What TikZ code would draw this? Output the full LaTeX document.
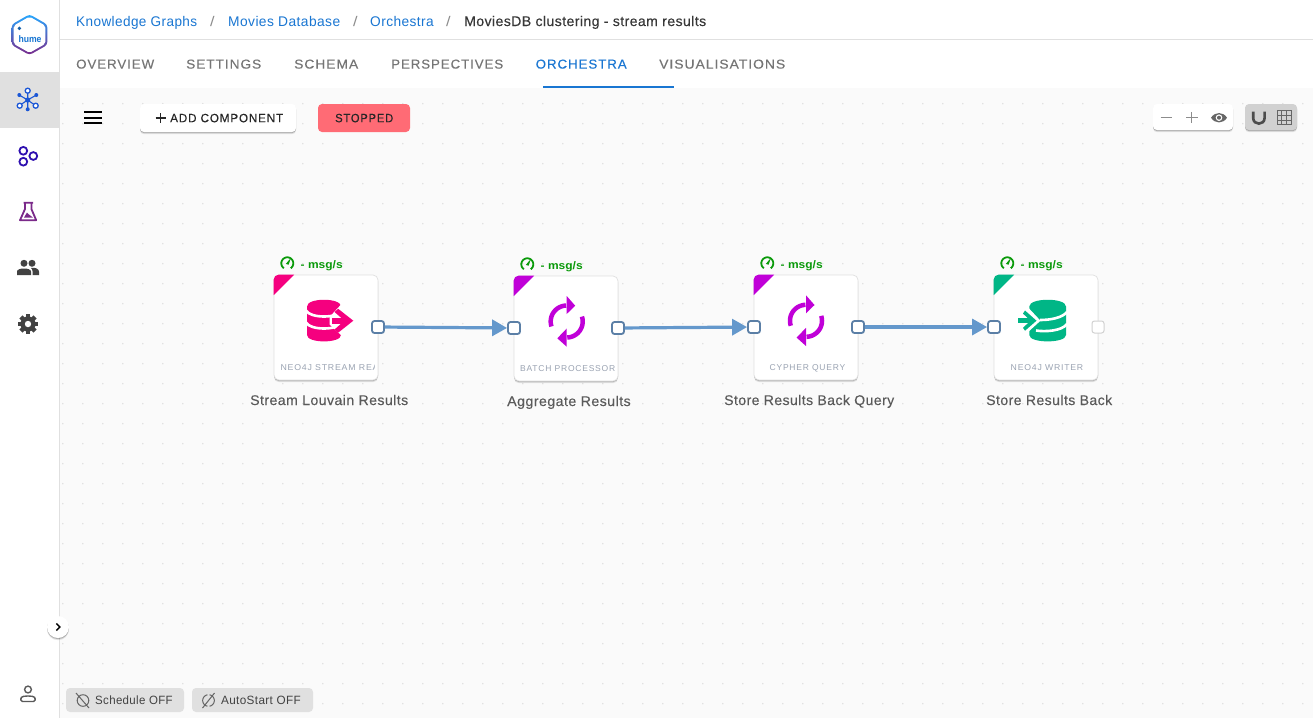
\documentclass[tikz,border=0pt]{standalone}
\usepackage{fontspec}
\usepackage{graphicx}
\usetikzlibrary{arrows.meta,shadows,calc}
\setmainfont{Liberation Sans}
\newfontfamily\medf[LetterSpace=3,FakeBold=0.15]{Liberation Sans}
\newfontfamily\trkf[LetterSpace=3]{Liberation Sans}
\newfontfamily\capf[LetterSpace=7,FakeBold=0.25]{Liberation Sans}
\newfontfamily\smallcapf[LetterSpace=9]{Liberation Sans}
\definecolor{linkblue}{HTML}{1976D2}
\definecolor{tabgray}{HTML}{757575}
\definecolor{canvasbg}{HTML}{FAFAFA}
\definecolor{linegray}{HTML}{E0E0E0}
\definecolor{dotgray}{HTML}{DFDFDF}
\definecolor{edgeblue}{HTML}{6498CC}
\definecolor{portblue}{HTML}{5B7FA6}
\definecolor{pinkc}{HTML}{F5007F}
\definecolor{purplec}{HTML}{C000D8}
\definecolor{greenc}{HTML}{00B686}
\definecolor{msggreen}{HTML}{0A9A0A}
\definecolor{capgray}{HTML}{9AA3B2}
\definecolor{labgray}{HTML}{5A5A5A}
\definecolor{icondark}{HTML}{424242}
\definecolor{netblue}{HTML}{1A56D6}
\definecolor{hexblue}{HTML}{2E0FB0}
\definecolor{flaskc}{HTML}{7B2A8A}
\definecolor{stopred}{HTML}{FF6B75}
\definecolor{chipgray}{HTML}{E0E0E0}
\newcommand\fitw[2]{\resizebox{#1pt}{\height}{#2}}
\newcommand\lbl[6]{\node[anchor=base west,inner sep=0pt,#5] (#1) at (#2,#3) {\fitw{#4}{#6}};}
\newcommand\gaugeicon[2]{%
  \begin{scope}[shift={(#1,#2)}]
    \draw[msggreen,line width=1.8pt] plot[domain=-55:235,samples=24] ({6*cos(\x)},{-6*sin(\x)});
    \fill[msggreen] (-1.5,0.6) -- (3.6,-5.4) -- (1.3,1.4) -- cycle;
  \end{scope}}
\newcommand\syncicon[2]{%
  \begin{scope}[shift={(#1,#2)}]
    \draw[purplec,line width=4.5pt] plot[domain=92:198,samples=24] ({16*cos(\x)},{-16*sin(\x)});
    \draw[purplec,line width=4.5pt] plot[domain=-88:18,samples=24] ({16*cos(\x)},{-16*sin(\x)});
    \fill[purplec] (0,-25.5) -- (8.5,-15.8) -- (0,-7.5) -- cycle;
    \fill[purplec] (0,7) -- (-9.4,16.8) -- (0,25.2) -- cycle;
  \end{scope}}
\newcommand\cornertri[2]{%
  \begin{scope}
    \clip[rounded corners=5pt] (#1.north west) rectangle (#1.south east);
    \fill[#2] (#1.north west) -- ++(20.5,0) -- ++(-20.5,20.5) -- cycle;
  \end{scope}}
\tikzset{
  f14/.style={font=\fontsize{14}{16}\selectfont},
  f13/.style={font=\fontsize{13}{15}\selectfont},
  f12/.style={font=\fontsize{12}{14}\selectfont},
  f11/.style={font=\fontsize{11}{13}\selectfont},
  f9/.style={font=\fontsize{8.5}{10}\selectfont},
  softshadow/.style={drop shadow={shadow xshift=0pt,shadow yshift=-2.2pt,opacity=.1,fill=black},drop shadow={shadow xshift=0pt,shadow yshift=-1.1pt,opacity=.22,fill=black}},
  compbox/.style={draw=linegray,line width=.7pt,fill=white,rounded corners=5pt,minimum width=104pt,minimum height=105pt,inner sep=0pt,softshadow},
  portbox/.style={draw=portblue,line width=1.8pt,fill=white,rounded corners=2.5pt,minimum size=12pt,inner sep=0pt},
  idleport/.style={draw=black!18,line width=1pt,fill=white,rounded corners=2.5pt,minimum size=12pt,inner sep=0pt},
  flow/.style={draw=edgeblue,line width=3.2pt,-{Triangle[length=15pt,width=16pt]}},
  tabtext/.style={f13,text=tabgray},
  crumb/.style={f14,text=linkblue},
  sepcrumb/.style={f14,text=black!45},
  msgtext/.style={f11,text=msggreen},
  nodetitle/.style={f14,text=labgray},
  nodecap/.style={f9,text=capgray},
  toolbtn/.style={rounded corners=4pt,inner sep=0pt},
  chip/.style={fill=chipgray,rounded corners=4pt},
  chiptext/.style={f12,text=icondark},
}
\begin{document}
\begin{tikzpicture}[x=1pt,y=-1pt]
\useasboundingbox (0,0) rectangle (1313,718);
\fill[white] (0,0) rectangle (1313,718);
% canvas
\fill[canvasbg] (60,88) rectangle (1313,718);
\fill[dotgray] foreach \i in {0,...,62} { foreach \j in {0,...,30} { ({62.8+20*\i},{103.7+20*\j}) circle (.8pt) } };
% chrome
\fill[linegray] (0,72) rectangle (59,128);
\draw[linegray,line width=1pt] (59.5,0) -- (59.5,718);
\draw[linegray,line width=1pt] (60,39.5) -- (1313,39.5);
% logo
\shade[top color=cyan!60!blue!85,middle color=linkblue!85,bottom color=flaskc,rounded corners=3pt]
  (29.5,14.3) -- (47.3,24.5) -- (47.3,45) -- (29.5,55) -- (11.7,45) -- (11.7,24.5) -- cycle;
\fill[white,rounded corners=2pt] (29.5,16.6) -- (45.3,25.7) -- (45.3,43.8) -- (29.5,52.8) -- (13.7,43.8) -- (13.7,25.7) -- cycle;
\fill[linkblue!80!black] (19.4,28.3) circle (1.9pt);
\node[anchor=base,inner sep=0pt,font=\fontsize{9.5}{12}\bfseries\selectfont,text=linkblue] (logotext) at (30,42) {\fitw{23}{hume}};
% breadcrumb
\lbl{bc1}{76}{26}{121}{crumb}{\trkf Knowledge Graphs}
\lbl{bcs1}{210}{26}{4.5}{sepcrumb}{/}
\lbl{bc2}{228}{26}{112}{crumb}{\trkf Movies Database}
\lbl{bcs2}{353}{26}{4.5}{sepcrumb}{/}
\lbl{bc3}{370}{26}{63.5}{crumb}{\trkf Orchestra}
\lbl{bcs3}{446}{26}{4.5}{sepcrumb}{/}
\lbl{bc4}{464}{26}{242}{f14,text=black!78}{\medf MoviesDB clustering - stream results}
% tabs
\lbl{t1}{76}{68.6}{78}{tabtext}{\capf OVERVIEW}
\lbl{t2}{186}{68.6}{75}{tabtext}{\capf SETTINGS}
\lbl{t3}{294}{68.6}{64}{tabtext}{\capf SCHEMA}
\lbl{t4}{391}{68.6}{112}{tabtext}{\capf PERSPECTIVES}
\lbl{t5}{535.5}{68.6}{91}{f13,text=linkblue}{\capf ORCHESTRA}
\lbl{t6}{659}{68.6}{126}{tabtext}{\capf VISUALISATIONS}
\fill[linkblue] (543,86) rectangle (674,88);
% sidebar icons: network
\begin{scope}[netblue]
  \draw[line width=1.1pt] (27.7,100) -- (27.7,92.8) (27.7,100) -- (21,104.5) (27.7,100) -- (34,104.5) (27.7,100) -- (27.7,109) (27.7,100) -- (19.5,95.2) (27.7,100) -- (36,95.2);
  \draw[line width=1.3pt,fill=white] (27.7,90.7) circle (2.5pt) (19.7,105.7) circle (2.5pt) (35.7,105.7) circle (2.5pt);
  \fill (19.3,95) circle (2pt) (36.3,95) circle (2pt) (27.7,109.3) circle (2pt) (27.7,100) circle (2.6pt);
\end{scope}
% sidebar icons: rings
\draw[hexblue,line width=1.8pt] (23.3,150.8) circle (3.9pt) (33.3,156) circle (3.9pt) (23.3,161.7) circle (3.9pt);
% sidebar icons: flask
\begin{scope}[flaskc]
  \draw[line width=1.8pt,line join=round] (23.5,202.8) -- (33,202.8) (25,203) -- (25,209) -- (20,220.2) -- (36.2,220.2) -- (31.4,209) -- (31.4,203);
  \fill (24,217.5) -- (27,212.5) -- (29,214.5) -- (32.8,217.5) -- cycle;
\end{scope}
% sidebar icons: group
\begin{scope}[icondark]
  \fill (24,263.3) circle (3.5pt) (32,263.3) circle (3.5pt);
  \fill (17,275) -- (17,271.5) .. controls (17,267.5) and (31,267.5) .. (31,271.5) -- (31,275) -- cycle;
  \fill (32.5,275) -- (32.5,271) .. controls (32.5,269.5) and (31.5,268.5) .. (31,268) .. controls (35,267) and (39,269) .. (39,271.5) -- (39,275) -- cycle;
\end{scope}
% sidebar icons: gear
\begin{scope}[shift={(28,324)}]
  \fill[icondark] (0,0) circle (7.6pt);
  \foreach \a in {0,45,...,315} { \fill[icondark,rotate=\a] (-2.2,-10) rectangle (2.2,-5); }
  \fill[white] (0,0) circle (3.2pt);
\end{scope}
% collapse button
\node[circle,fill=white,minimum size=22pt,inner sep=0pt,softshadow] (collapse) at (58,627) {};
\draw[black,line width=1.4pt] (56.3,623.5) -- (59.8,627) -- (56.3,630.5);
% person
\draw[labgray,line width=1.4pt] (28,689.5) circle (3.4pt);
\draw[labgray,line width=1.4pt,rounded corners=1.5pt] (20.8,701.5) -- (20.8,698.8) .. controls (22,695.5) and (34,695.5) .. (35.2,698.8) -- (35.2,701.5) -- cycle;
% toolbar
\draw[black,line width=2pt] (84,112) -- (102,112) (84,117.5) -- (102,117.5) (84,123) -- (102,123);
\node[toolbtn,fill=white,minimum width=156pt,minimum height=28pt,softshadow] (addbtn) at (218,118) {};
\draw[black!85,line width=1.2pt] (155.5,118) -- (165.5,118) (160.5,113) -- (160.5,123);
\lbl{addtext}{170}{122.2}{113}{f12,text=black!85}{\capf ADD COMPONENT}
\node[toolbtn,fill=stopred,minimum width=92pt,minimum height=28pt] (stopbtn) at (364,118) {};
\lbl{stoptext}{335}{122.2}{58}{f12,text=black!85}{\capf STOPPED}
% zoom tools
\node[toolbtn,fill=white,minimum width=80pt,minimum height=26pt,softshadow] (zoomtool) at (1193,117) {};
\draw[black!45,line width=1.2pt] (1160.7,117.7) -- (1171.7,117.7) (1186,117.7) -- (1197.5,117.7) (1191.7,112) -- (1191.7,123.4);
\fill[black!60] (1211,117.7) .. controls (1215,111.5) and (1223,111.5) .. (1227,117.7) .. controls (1223,124) and (1215,124) .. (1211,117.7) -- cycle;
\fill[white] (1219,117.7) circle (3.3pt);
\fill[black!60] (1219,117.7) circle (2pt);
\node[toolbtn,fill=black!18,minimum width=52pt,minimum height=26pt,softshadow] (viewtool) at (1271,117) {};
\draw[black!70,line width=2.6pt] (1253.2,111.7) -- (1253.2,118) .. controls (1253.2,125.5) and (1264.6,125.5) .. (1264.6,118) -- (1264.6,111.7);
\draw[black!60,line width=1pt] (1277,110.5) rectangle (1291.5,124.8);
\draw[black!60,line width=1pt] (1281.8,110.5) -- (1281.8,124.8) (1286.6,110.5) -- (1286.6,124.8) (1277,115.3) -- (1291.5,115.3) (1277,120) -- (1291.5,120);
% components
\node[compbox] (c1) at (326,327.5) {};
\node[compbox] (c2) at (566,328.5) {};
\node[compbox] (c3) at (806,327.5) {};
\node[compbox] (c4) at (1046,327.5) {};
\cornertri{c1}{pinkc}
\cornertri{c2}{purplec}
\cornertri{c3}{purplec}
\cornertri{c4}{greenc}
% pink reader icon
\begin{scope}
  \fill[pinkc] (307,306.5) -- (307,335) .. controls (307,343.5) and (341,343.5) .. (341,335) -- (341,306.5) .. controls (341,297.5) and (307,297.5) .. (307,306.5) -- cycle;
  \draw[white,line width=2.6pt] (306,310.5) .. controls (310,318.5) and (338,318.5) .. (342,310.5);
  \draw[white,line width=2.6pt] (306,322.5) .. controls (310,330.5) and (338,330.5) .. (342,322.5);
  \fill[white] (342,303.5) -- (329.5,317) -- (329.5,324.5) -- (342,336) -- (356,336) -- (356,303.5) -- cycle;
  \fill[pinkc] (332,317.8) -- (346,317.8) -- (346,323.6) -- (332,323.6) -- cycle;
  \fill[pinkc] (338.2,308.8) -- (353.3,320.7) -- (338.2,332.7) -- (334.5,329.5) -- (344.5,320.7) -- (334.5,312) -- cycle;
\end{scope}
% sync icons
\syncicon{566.7}{321.5}
\syncicon{806}{320.8}
% green writer icon
\begin{scope}
  \fill[greenc] (1029.3,306.5) -- (1029.3,335) .. controls (1029.3,343.5) and (1066,343.5) .. (1066,335) -- (1066,306.5) .. controls (1066,297.5) and (1029.3,297.5) .. (1029.3,306.5) -- cycle;
  \draw[white,line width=2.6pt] (1040,320) .. controls (1050,320) and (1062,318) .. (1067,312);
  \draw[white,line width=2.6pt] (1036,330.5) .. controls (1045,332) and (1062,331) .. (1067,324);
  \fill[white] (1027,306.3) -- (1040.5,320.7) -- (1027,333) -- (1015,333) -- (1015,306.3) -- cycle;
  \fill[greenc] (1018,318.2) -- (1031,318.2) -- (1031,323.2) -- (1018,323.2) -- cycle;
  \fill[greenc] (1025,310.5) -- (1036.5,320.7) -- (1025,330.7) -- (1023,327.8) -- (1030.5,320.7) -- (1023,313.6) -- cycle;
\end{scope}
% ports
\node[portbox] (p1o) at (378,327) {};
\node[portbox] (p2i) at (514,328) {};
\node[portbox] (p2o) at (618,328) {};
\node[portbox] (p3i) at (754,327) {};
\node[portbox] (p3o) at (858,327) {};
\node[portbox] (p4i) at (994,327) {};
\node[idleport] (p4o) at (1098,327) {};
\draw[flow] (p1o) -- (p2i);
\draw[flow] (p2o) -- (p3i);
\draw[flow] (p3o) -- (p4i);
% captions
\begin{scope}
  \clip (276,355) rectangle (374.5,378);
  \lbl{cap1}{280.3}{370}{98}{nodecap}{\smallcapf NEO4J STREAM REA}
\end{scope}
\lbl{cap2}{520}{371}{95}{nodecap}{\smallcapf BATCH PROCESSOR}
\lbl{cap3}{769.5}{370}{75.5}{nodecap}{\smallcapf CYPHER QUERY}
\lbl{cap4}{1010.5}{370}{72.5}{nodecap}{\smallcapf NEO4J WRITER}
% titles
\lbl{title1}{250}{405}{158}{nodetitle}{\medf Stream Louvain Results}
\lbl{title2}{507}{406}{123.5}{nodetitle}{\medf Aggregate Results}
\lbl{title3}{724}{405}{170}{nodetitle}{\medf Store Results Back Query}
\lbl{title4}{986}{405}{126}{nodetitle}{\medf Store Results Back}
% gauges and rates
\gaugeicon{287.3}{263.3}
\gaugeicon{527.3}{264.3}
\gaugeicon{767.3}{263.3}
\gaugeicon{1007.3}{263.3}
\lbl{rate1}{300.5}{268}{42}{msgtext}{\bfseries - msg/s}
\lbl{rate2}{540.5}{269}{42}{msgtext}{\bfseries - msg/s}
\lbl{rate3}{780.5}{268}{42}{msgtext}{\bfseries - msg/s}
\lbl{rate4}{1020.5}{268}{42}{msgtext}{\bfseries - msg/s}
% chips
\path[chip] (66,688) rectangle (184,712);
\path[chip] (192,688) rectangle (313,712);
\draw[black!60,line width=1pt] (83,700.5) circle (5.8pt) (76,693) -- (89,708);
\draw[black!60,line width=1pt] plot[domain=100:260,samples=14] ({208.5+5.8*cos(\x)},{700.5-5.8*sin(\x)});
\draw[black!60,line width=1pt] plot[domain=-80:80,samples=14] ({208.5+5.8*cos(\x)},{700.5-5.8*sin(\x)});
\draw[black!60,line width=1pt] (202.5,708) -- (214.5,693);
\lbl{chip1}{95}{704.3}{77.5}{chiptext}{\trkf Schedule OFF}
\lbl{chip2}{221}{704.3}{79.5}{chiptext}{\trkf AutoStart OFF}
\end{tikzpicture}
\end{document}
